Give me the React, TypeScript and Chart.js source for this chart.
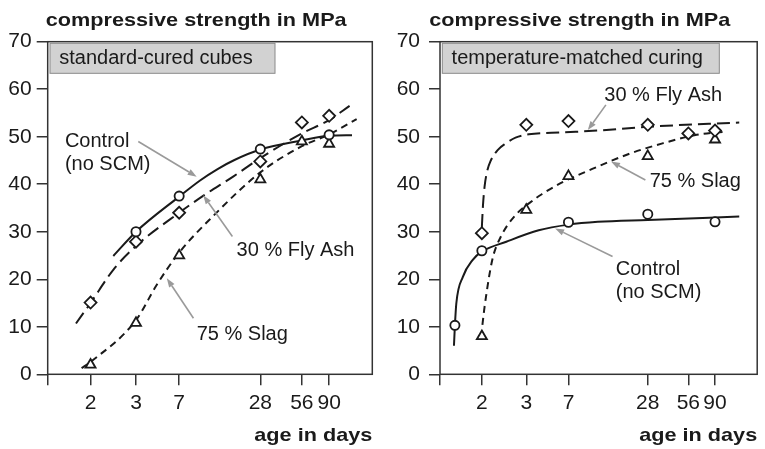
import React, { useEffect, useRef } from "react";
import { Chart, registerables } from "chart.js";

Chart.register(...registerables);

// ---- age axis -------------------------------------------------------------
const TICK_AGES = [2, 3, 7, 28, 56, 90];
const TICK_LABELS = ["2", "3", "7", "28", "56", "90"];

// ---- standard-cured cubes: measured strengths (MPa) -----------------------
const STD_AGES = [2, 3, 7, 28, 56, 90];
const STD_CONTROL = [null, 30.0, 37.5, 47.4, null, 50.4];
const STD_FLYASH = [15.1, 27.9, 34.0, 44.8, 53.0, 54.4];
const STD_SLAG = [2.0, 10.8, 25.0, 41.0, 49.0, 48.5];

// trend curves
const STD_CONTROL_FIT_AGES = [2.45, 3, 7, 10, 13.5, 18, 28, 56, 90, 130];
const STD_CONTROL_FIT = [24.9, 30.0, 37.4, 40.8, 43.2, 45.1, 47.3, 49.2, 50.2, 50.3];
const STD_FLYASH_FIT_AGES = [1.58, 2, 2.45, 3, 7, 10.6, 17.6, 28, 56, 90, 125];
const STD_FLYASH_FIT = [10.7, 15.0, 22.0, 27.0, 34.0, 37.6, 41.6, 45.5, 50.7, 53.5, 56.5];
const STD_SLAG_FIT_AGES = [1.73, 2, 3, 4.5, 7, 12.5, 28, 56, 90, 140];
const STD_SLAG_FIT = [1.3, 2.6, 11.4, 18.8, 25.6, 33.3, 42.5, 48.0, 50.5, 53.7];

// ---- temperature-matched curing: measured strengths (MPa) -----------------
const TMC_AGES = [1.28, 2, 3, 7, 28, 56, 90];
const TMC_CONTROL = [10.3, 26.0, null, 32.0, 33.7, null, 32.1];
const TMC_FLYASH = [null, 29.7, 52.5, 53.3, 52.5, 50.7, 51.3];
const TMC_SLAG = [null, 8.0, 34.6, 41.7, 45.9, null, 49.4];

// trend curves
const TMC_CONTROL_FIT_AGES = [1.26, 1.28, 1.31, 1.46, 1.72, 2, 2.5, 3.85, 7, 11.7, 28, 134];
const TMC_CONTROL_FIT = [6.0, 10.3, 14.9, 20.5, 24.1, 25.8, 27.9, 30.3, 31.5, 32.1, 32.5, 33.2];
const TMC_FLYASH_FIT_AGES = [2, 2.02, 2.05, 2.1, 2.17, 2.31, 2.49, 2.72, 3.16, 6.2, 11.7, 28, 134];
const TMC_FLYASH_FIT = [31.0, 35.5, 39.5, 42.8, 45.0, 47.2, 48.6, 49.8, 50.5, 50.9, 51.3, 52.1, 53.0];
const TMC_SLAG_FIT_AGES = [2.01, 2.05, 2.2, 2.38, 2.72, 3.47, 4.1, 6.3, 9.6, 20.7, 36, 65, 108];
const TMC_SLAG_FIT = [10.4, 14.2, 24.1, 29.0, 33.5, 36.7, 37.9, 40.5, 42.7, 46.5, 48.6, 50.4, 51.1];

// ---- axis geometry: breakpoints of the piecewise-logarithmic age axis ------
const AXIS_BREAK_AGES = [1, 2, 3, 7, 28, 56, 90, 180];
const AXIS_BREAK_POS = [0, 0.132, 0.272, 0.405, 0.655, 0.783, 0.867, 1];

function ageToU(age: number): number {
  const l = Math.log10(age);
  const n = AXIS_BREAK_AGES.length;
  for (let i = 0; i < n - 1; i++) {
    const a0 = Math.log10(AXIS_BREAK_AGES[i]);
    const a1 = Math.log10(AXIS_BREAK_AGES[i + 1]);
    if (l <= a1 || i === n - 2) {
      const t = (l - a0) / (a1 - a0);
      return AXIS_BREAK_POS[i] + t * (AXIS_BREAK_POS[i + 1] - AXIS_BREAK_POS[i]);
    }
  }
  return 0;
}

const FONT = "'Liberation Sans', Arial, Helvetica, sans-serif";
const INK = "#1a1a1a";
const LEADER = "#9a9a9a";
const HEIGHT = 449;
const BOLD_STRETCH = 1.14;

type Note = {
  lines: string[];
  at: [number, number];
  from: [number, number];
  tip: [number, number];
};

type Panel = {
  width: number;
  area: { left: number; top: number; right: number; bottom: number };
  yPad: number;
  titleX: number;
  boxW: number;
  label: string;
  ages: number[];
  control: (number | null)[];
  flyash: (number | null)[];
  slag: (number | null)[];
  controlFit: [number[], number[]];
  flyashFit: [number[], number[]];
  slagFit: [number[], number[]];
  notes: Note[];
};

const STD_PANEL: Panel = {
  width: 385,
  area: { left: 47.7, top: 41.7, right: 372.3, bottom: 374.3 },
  yPad: 5,
  titleX: 45.7,
  boxW: 225,
  label: "standard-cured cubes",
  ages: STD_AGES,
  control: STD_CONTROL,
  flyash: STD_FLYASH,
  slag: STD_SLAG,
  controlFit: [STD_CONTROL_FIT_AGES, STD_CONTROL_FIT],
  flyashFit: [STD_FLYASH_FIT_AGES, STD_FLYASH_FIT],
  slagFit: [STD_SLAG_FIT_AGES, STD_SLAG_FIT],
  notes: [
    { lines: ["Control", "(no SCM)"], at: [0.053, 47.9], from: [0.279, 49.0], tip: [0.459, 41.6] },
    { lines: ["30 % Fly Ash"], at: [0.582, 24.8], from: [0.569, 29.0], tip: [0.479, 37.7] },
    { lines: ["75 % Slag"], at: [0.459, 7.2], from: [0.449, 11.8], tip: [0.367, 20.2] },
  ],
};

const TMC_PANEL: Panel = {
  width: 380,
  area: { left: 55, top: 41.7, right: 376.7, bottom: 374.3 },
  yPad: 9,
  titleX: 44.3,
  boxW: 277,
  label: "temperature-matched curing",
  ages: TMC_AGES,
  control: TMC_CONTROL,
  flyash: TMC_FLYASH,
  slag: TMC_SLAG,
  controlFit: [TMC_CONTROL_FIT_AGES, TMC_CONTROL_FIT],
  flyashFit: [TMC_FLYASH_FIT_AGES, TMC_FLYASH_FIT],
  slagFit: [TMC_SLAG_FIT_AGES, TMC_SLAG_FIT],
  notes: [
    { lines: ["30 % Fly Ash"], at: [0.518, 57.6], from: [0.523, 56.7], tip: [0.466, 51.4] },
    { lines: ["75 % Slag"], at: [0.661, 39.4], from: [0.6475, 40.9], tip: [0.539, 44.8] },
    { lines: ["Control", "(no SCM)"], at: [0.554, 20.9], from: [0.544, 24.8], tip: [0.363, 30.7] },
  ],
};

function points(ages: number[], values: (number | null)[]) {
  const out: { x: number; y: number }[] = [];
  ages.forEach((a, i) => {
    const v = values[i];
    if (v !== null && v !== undefined) out.push({ x: ageToU(a), y: v });
  });
  return out;
}

function curve(fit: [number[], number[]], dash: number[]) {
  return {
    type: "line" as const,
    data: points(fit[0], fit[1]),
    borderColor: INK,
    borderWidth: 2,
    borderDash: dash,
    pointRadius: 0,
    fill: false,
    cubicInterpolationMode: "monotone" as const,
    order: 2,
  };
}

function markers(ages: number[], values: (number | null)[], style: string, radius: number) {
  return {
    type: "line" as const,
    data: points(ages, values),
    showLine: false,
    pointStyle: style,
    pointRadius: radius,
    pointBorderWidth: 1.8,
    pointBorderColor: INK,
    pointBackgroundColor: "#ffffff",
    borderColor: INK,
    order: 0,
  };
}

function wideText(ctx: CanvasRenderingContext2D, text: string, x: number, y: number, align: CanvasTextAlign) {
  ctx.save();
  ctx.translate(x, y);
  ctx.scale(BOLD_STRETCH, 1);
  ctx.textAlign = align;
  ctx.textBaseline = "alphabetic";
  ctx.fillText(text, 0, 0);
  ctx.restore();
}

function decorPlugin(panel: Panel) {
  return {
    id: "panelDecor",
    afterDraw(chart: any) {
      const ctx: CanvasRenderingContext2D = chart.ctx;
      const { left, top, right, bottom } = chart.chartArea;
      const xs = chart.scales.x;
      const ys = chart.scales.y;
      const px = (u: number) => xs.getPixelForValue(u);
      const py = (v: number) => ys.getPixelForValue(v);

      ctx.save();
      // plot frame
      ctx.strokeStyle = "#333333";
      ctx.lineWidth = 1.5;
      ctx.strokeRect(left, top, right - left, bottom - top);

      // shaded caption box
      ctx.fillStyle = "#d2d2d2";
      ctx.fillRect(left + 2.3, top + 1.6, panel.boxW, 30);
      ctx.strokeStyle = "#8a8a8a";
      ctx.lineWidth = 1;
      ctx.strokeRect(left + 2.3, top + 1.6, panel.boxW, 30);
      ctx.fillStyle = INK;
      ctx.font = `20px ${FONT}`;
      ctx.textAlign = "left";
      ctx.textBaseline = "alphabetic";
      ctx.fillText(panel.label, left + 11.6, top + 22.6);

      // axis titles
      ctx.font = `bold 19px ${FONT}`;
      wideText(ctx, "compressive strength in MPa", panel.titleX, 25.5, "left");
      wideText(ctx, "age in days", right, 440.5, "right");

      // labelled leader arrows
      for (const n of panel.notes) {
        const x0 = px(n.from[0]);
        const y0 = py(n.from[1]);
        const x1 = px(n.tip[0]);
        const y1 = py(n.tip[1]);
        const ang = Math.atan2(y1 - y0, x1 - x0);
        const head = 9;
        const half = 3.2;
        const bx = x1 - head * Math.cos(ang);
        const by = y1 - head * Math.sin(ang);
        ctx.strokeStyle = LEADER;
        ctx.fillStyle = LEADER;
        ctx.lineWidth = 1.6;
        ctx.beginPath();
        ctx.moveTo(x0, y0);
        ctx.lineTo(bx, by);
        ctx.stroke();
        ctx.beginPath();
        ctx.moveTo(x1, y1);
        ctx.lineTo(bx + half * Math.sin(ang), by - half * Math.cos(ang));
        ctx.lineTo(bx - half * Math.sin(ang), by + half * Math.cos(ang));
        ctx.closePath();
        ctx.fill();

        ctx.fillStyle = INK;
        ctx.font = `20px ${FONT}`;
        ctx.textAlign = "left";
        ctx.textBaseline = "alphabetic";
        n.lines.forEach((line, i) => {
          ctx.fillText(line, px(n.at[0]), py(n.at[1]) + i * 23);
        });
      }
      ctx.restore();
    },
  };
}

function buildConfig(panel: Panel): any {
  const tickValues = [0, ...TICK_AGES.map(ageToU)];
  const tickText = ["", ...TICK_LABELS];
  return {
    type: "line",
    data: {
      datasets: [
        markers(panel.ages, panel.control, "circle", 4.6),
        markers(panel.ages, panel.flyash, "rectRot", 6),
        markers(panel.ages, panel.slag, "triangle", 5.8),
        curve(panel.controlFit, []),
        curve(panel.flyashFit, [13, 6]),
        curve(panel.slagFit, [7, 5]),
      ],
    },
    options: {
      responsive: true,
      maintainAspectRatio: false,
      animation: false,
      events: [],
      layout: {
        padding: {
          left: 0,
          top: panel.area.top,
          right: panel.width - panel.area.right,
          bottom: 0,
        },
      },
      plugins: {
        legend: { display: false },
        tooltip: { enabled: false },
        title: { display: false },
      },
      scales: {
        x: {
          type: "linear",
          min: 0,
          max: 1,
          border: { display: false },
          grid: {
            drawOnChartArea: false,
            drawTicks: true,
            tickLength: 11,
            color: "#333333",
            lineWidth: 1.5,
          },
          ticks: {
            autoSkip: false,
            maxRotation: 0,
            padding: 5,
            color: INK,
            font: { family: FONT, size: 21 },
            callback: (_v: number, i: number) => tickText[i] ?? "",
          },
          afterBuildTicks: (scale: any) => {
            scale.ticks = tickValues.map((value) => ({ value }));
          },
          afterFit: (scale: any) => {
            scale.height = HEIGHT - panel.area.bottom;
          },
        },
        y: {
          type: "linear",
          min: 0,
          max: 70,
          border: { display: false },
          grid: {
            drawOnChartArea: false,
            drawTicks: true,
            tickLength: 11,
            color: "#333333",
            lineWidth: 1.5,
          },
          ticks: {
            stepSize: 10,
            padding: panel.yPad,
            color: INK,
            font: { family: FONT, size: 21 },
          },
          afterFit: (scale: any) => {
            scale.width = panel.area.left;
          },
        },
      },
    },
    plugins: [decorPlugin(panel)],
  };
}

export default function App() {
  const leftRef = useRef<HTMLCanvasElement>(null);
  const rightRef = useRef<HTMLCanvasElement>(null);

  useEffect(() => {
    const a = new Chart(leftRef.current as HTMLCanvasElement, buildConfig(STD_PANEL));
    const b = new Chart(rightRef.current as HTMLCanvasElement, buildConfig(TMC_PANEL));
    return () => {
      a.destroy();
      b.destroy();
    };
  }, []);

  return (
    <div style={{ position: "absolute", left: 0, top: 0, width: 765, height: HEIGHT, background: "#ffffff" }}>
      <div style={{ position: "absolute", left: 0, top: 0, width: STD_PANEL.width, height: HEIGHT }}>
        <canvas ref={leftRef} />
      </div>
      <div style={{ position: "absolute", left: STD_PANEL.width, top: 0, width: TMC_PANEL.width, height: HEIGHT }}>
        <canvas ref={rightRef} />
      </div>
    </div>
  );
}
